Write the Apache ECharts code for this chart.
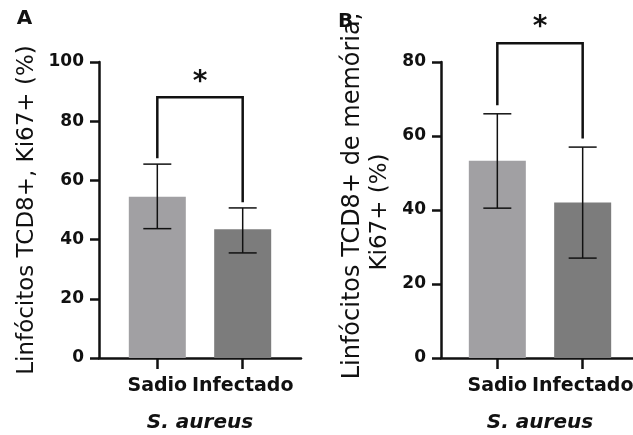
<!DOCTYPE html>
<html>
<head>
<meta charset="utf-8">
<script src="https://cdn.jsdelivr.net/npm/echarts@6/dist/echarts.min.js"></script>
<style>
  html, body { margin: 0; padding: 0; background: #ffffff; }
  #chart { width: 633px; height: 435px; }
</style>
</head>
<body>
<div id="chart"></div>
<script>
// ---- Data ----
const categories = ['Sadio', 'Infectado'];
const groupLabel = 'S. aureus';

const aMean  = [54.5, 43.5];
const aUpper = [65.5, 50.7];
const aLower = [43.7, 35.5];
const aBracket = [67.5, 88.1, 52.6]; // left leg end, top, right leg end
const aYMax = 100;
const aTitle = 'Linfócitos TCD8+, Ki67+ (%)';

const bMean  = [53.3, 42.0];
const bUpper = [66.0, 57.0];
const bLower = [40.5, 27.0];
const bBracket = [68.3, 85.1, 59.3];
const bYMax = 80;
const bTitle1 = 'Linfócitos TCD8+ de memória,';
const bTitle2 = 'Ki67+ (%)';

const yInterval = 20;
const sigMark = '*';

// ---- Styles ----
const barColors = ['#a1a0a3', '#7c7c7c'];
const FONT = 'DejaVu Sans';

const chart = echarts.init(document.getElementById('chart'), null, { renderer: 'canvas' });

function xAxisDef(gridIndex, min, max) {
  return {
    type: 'value', gridIndex, min, max,
    name: groupLabel, nameLocation: 'middle', nameGap: 55,
    nameTextStyle: { fontFamily: FONT, fontSize: 20, fontWeight: 'bold', fontStyle: 'italic', color: '#111' },
    axisLine: { show: true, onZero: false, lineStyle: { color: '#111', width: 2.5 } },
    axisTick: { show: true, length: 11, customValues: [1, 2], lineStyle: { color: '#111', width: 2.5 } },
    axisLabel: {
      customValues: [1, 2], margin: 19,
      fontFamily: FONT, fontSize: 19, fontWeight: 'bold', color: '#111',
      formatter: v => categories[Math.round(v) - 1] || ''
    },
    splitLine: { show: false }
  };
}

function yAxisDef(gridIndex, max, withName) {
  const ax = {
    type: 'value', gridIndex, min: 0, max, interval: yInterval,
    axisLine: { show: true, lineStyle: { color: '#111', width: 2.5 } },
    axisTick: { show: true, length: 9, lineStyle: { color: '#111', width: 2.5 } },
    axisLabel: { margin: 15, fontFamily: FONT, fontSize: 17, fontWeight: 'bold', color: '#111' },
    splitLine: { show: false }
  };
  if (withName) {
    ax.name = aTitle;
    ax.nameLocation = 'middle';
    ax.nameGap = 60;
    ax.nameTextStyle = { fontFamily: FONT, fontSize: 23, color: '#111' };
  }
  return ax;
}

function barSeries(idx, means) {
  return {
    type: 'bar', xAxisIndex: idx, yAxisIndex: idx, barWidth: 57, z: 2,
    data: means.map((m, i) => ({ value: [i + 1, m], itemStyle: { color: barColors[i] } }))
  };
}

function errSeries(idx, lower, upper) {
  return {
    type: 'custom', xAxisIndex: idx, yAxisIndex: idx, z: 5,
    data: lower.map((lo, i) => [i + 1, lo, upper[i]]),
    renderItem: function (params, api) {
      const x = api.value(0);
      const pLo = api.coord([x, api.value(1)]);
      const pHi = api.coord([x, api.value(2)]);
      const hw = 14;
      const st = { stroke: '#111', lineWidth: 1.5 };
      return {
        type: 'group',
        children: [
          { type: 'line', shape: { x1: pLo[0], y1: pLo[1], x2: pHi[0], y2: pHi[1] }, style: st },
          { type: 'line', shape: { x1: pHi[0] - hw, y1: pHi[1], x2: pHi[0] + hw, y2: pHi[1] }, style: st },
          { type: 'line', shape: { x1: pLo[0] - hw, y1: pLo[1], x2: pLo[0] + hw, y2: pLo[1] }, style: st }
        ]
      };
    }
  };
}

function bracketSeries(idx, br) {
  return {
    type: 'custom', xAxisIndex: idx, yAxisIndex: idx, z: 6, clip: false,
    data: [[1, 2, br[0], br[1], br[2]]],
    renderItem: function (params, api) {
      const x1 = api.value(0), x2 = api.value(1);
      const pL = api.coord([x1, api.value(2)]);
      const pTL = api.coord([x1, api.value(3)]);
      const pTR = api.coord([x2, api.value(3)]);
      const pR = api.coord([x2, api.value(4)]);
      const mid = (pTL[0] + pTR[0]) / 2;
      return {
        type: 'group',
        children: [
          { type: 'polyline', shape: { points: [pL, pTL, pTR, pR] },
            style: { stroke: '#111', lineWidth: 2.5, fill: null } },
          { type: 'text', x: mid, y: pTL[1] - 15,
            style: { text: sigMark, font: 'bold 28px "' + FONT + '"', fill: '#111',
                     align: 'center', verticalAlign: 'middle' } }
        ]
      };
    }
  };
}

const option = {
  animation: false,
  backgroundColor: '#ffffff',
  grid: [
    { left: 99, top: 62, width: 202, height: 296, outerBoundsMode: 'none', containLabel: false },
    { left: 441, top: 62, width: 198, height: 296, outerBoundsMode: 'none', containLabel: false }
  ],
  xAxis: [ xAxisDef(0, 0.317, 2.683), xAxisDef(1, 0.34, 2.66) ],
  yAxis: [ yAxisDef(0, aYMax, true), yAxisDef(1, bYMax, false) ],
  series: [
    barSeries(0, aMean), errSeries(0, aLower, aUpper), bracketSeries(0, aBracket),
    barSeries(1, bMean), errSeries(1, bLower, bUpper), bracketSeries(1, bBracket)
  ],
  graphic: [
    { type: 'text', x: 24.5, y: 19, style: { text: 'A', font: 'bold 20px "' + FONT + '"', fill: '#111', align: 'center', verticalAlign: 'middle' } },
    { type: 'text', x: 345.5, y: 22, style: { text: 'B', font: 'bold 20px "' + FONT + '"', fill: '#111', align: 'center', verticalAlign: 'middle' } },
    { type: 'text', x: 353, y: 196, rotation: Math.PI / 2, style: { text: bTitle1, font: '24px "' + FONT + '"', fill: '#111', align: 'center', verticalAlign: 'middle' } },
    { type: 'text', x: 380, y: 212, rotation: Math.PI / 2, style: { text: bTitle2, font: '23px "' + FONT + '"', fill: '#111', align: 'center', verticalAlign: 'middle' } }
  ]
};

chart.setOption(option);
</script>
</body>
</html>
